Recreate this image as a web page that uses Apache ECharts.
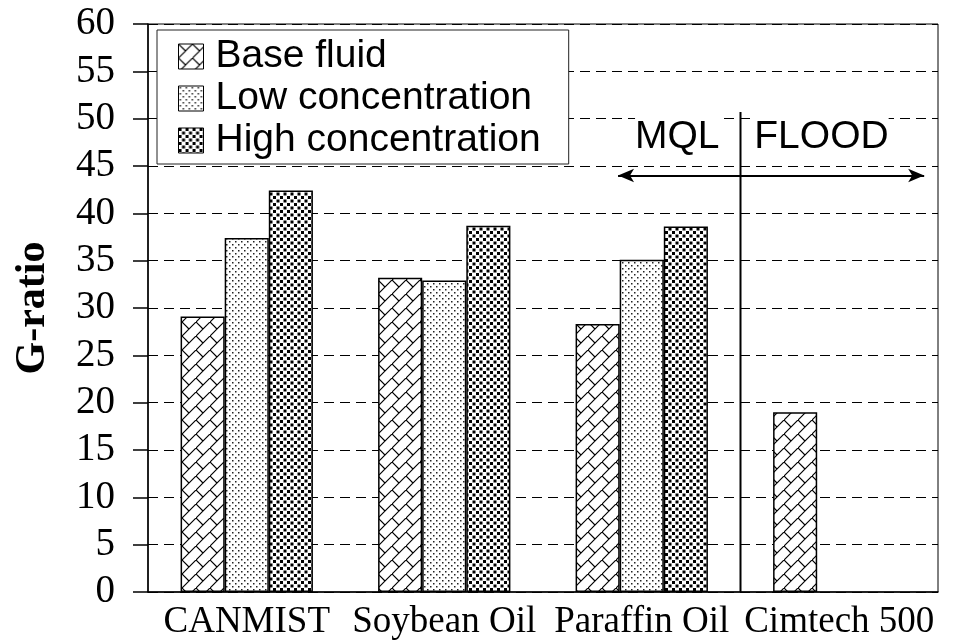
<!DOCTYPE html>
<html>
<head>
<meta charset="utf-8">
<script src="https://cdn.jsdelivr.net/npm/echarts@6/dist/echarts.min.js"></script>
<style>
  html, body { margin: 0; padding: 0; background: #fff; }
  #main { width: 966px; height: 640px; }
</style>
</head>
<body>
<div id="main"></div>
<script>
// data
const categories = ['CANMIST', 'Soybean Oil', 'Paraffin Oil', 'Cimtech 500'];
const seriesNames = ['Base fluid', 'Low concentration', 'High concentration'];
const baseFluid = [29.1, 33.2, 28.3, 19.0];
const lowConc = [37.4, 32.9, 35.1, null];
const highConc = [42.4, 38.7, 38.6, null];
const yMin = 0, yMax = 60, yStep = 5;

// annotations, in units of a hidden 0..4 x axis
const dividerLine = [[3, 50.7], [3, 0]];
const arrowSpan = [2.38, 3.93];
const arrowY = 44;
const regionLabels = [[2.68, 48, 'MQL'], [3.41, 48, 'FLOOD']];

// fill patterns (like the old excel ones)
function makeTile(size, draw) {
  const c = document.createElement('canvas');
  c.width = size; c.height = size;
  const ctx = c.getContext('2d');
  ctx.fillStyle = '#fff';
  ctx.fillRect(0, 0, size, size);
  draw(ctx, size);
  return { image: c, repeat: 'repeat' };
}
const brick = makeTile(14, function (ctx, s) {
  ctx.strokeStyle = '#000';
  ctx.lineWidth = 1.2;
  ctx.beginPath();
  ctx.moveTo(-1, s + 1); ctx.lineTo(s + 1, -1); // the / line
  ctx.moveTo(0, 0); ctx.lineTo(s / 2, s / 2);    // short \ joint
  ctx.stroke();
});
const sparseDots = makeTile(6, function (ctx) {
  ctx.fillStyle = '#222';
  ctx.fillRect(1, 1, 1.5, 1.5);
  ctx.fillRect(4, 4, 1.5, 1.5);
});
const denseDots = makeTile(7, function (ctx) {
  ctx.fillStyle = '#000';
  ctx.fillRect(0, 0, 3, 3);
  ctx.fillRect(3.5, 3.5, 3, 3);
});

const chart = echarts.init(document.getElementById('main'));

function barSeries(name, data, fill) {
  return {
    name: name,
    type: 'bar',
    data: data,
    barGap: '0%',
    barCategoryGap: '33%',
    itemStyle: { color: fill, borderColor: '#000', borderWidth: 1.5 },
    emphasis: { disabled: true }
  };
}

const option = {
  animation: false,
  grid: {
    left: 148, right: 28, top: 24, bottom: 48,
    outerBoundsMode: 'none',
    containLabel: false,
    show: true, borderColor: '#000', borderWidth: 1, backgroundColor: 'transparent'
  },
  legend: {
    data: seriesNames,
    orient: 'vertical',
    left: 157, top: 30,
    padding: [7, 28, 4, 21],
    itemGap: 3,
    itemWidth: 25, itemHeight: 25,
    icon: 'rect',
    backgroundColor: '#fff',
    borderColor: '#222', borderWidth: 1,
    itemStyle: { borderColor: '#000', borderWidth: 1 },
    textStyle: { fontFamily: 'Liberation Sans', fontSize: 39, color: '#000', padding: [0, 0, 0, 7] }
  },
  xAxis: [
    {
      type: 'category',
      data: categories,
      axisLine: { lineStyle: { color: '#000', width: 1.5 } },
      axisTick: { show: false },
      axisLabel: { fontFamily: 'Liberation Serif', fontSize: 37, color: '#000', margin: 12, interval: 0 }
    },
    { type: 'value', min: 0, max: 4, show: false }
  ],
  yAxis: {
    type: 'value',
    min: yMin, max: yMax, interval: yStep,
    name: 'G-ratio',
    nameLocation: 'middle',
    nameGap: 94,
    nameTextStyle: { fontFamily: 'Liberation Serif', fontSize: 42, fontWeight: 'bold', color: '#000' },
    axisLine: { show: true, lineStyle: { color: '#000', width: 1.5 } },
    axisTick: { show: true, length: 15, lineStyle: { color: '#000', width: 1.5 } },
    axisLabel: { fontFamily: 'Liberation Serif', fontSize: 39, color: '#000', margin: 33 },
    splitLine: { lineStyle: { color: '#000', width: 1, type: [10, 6] } }
  },
  series: [
    barSeries(seriesNames[0], baseFluid, brick),
    barSeries(seriesNames[1], lowConc, sparseDots),
    barSeries(seriesNames[2], highConc, denseDots),
    {
      name: 'divider',
      type: 'line',
      xAxisIndex: 1,
      data: dividerLine,
      symbol: 'none',
      silent: true,
      lineStyle: { color: '#000', width: 2 },
      markLine: {
        silent: true,
        symbol: ['arrow', 'arrow'],
        symbolSize: [10, 16],
        label: { show: false },
        lineStyle: { color: '#000', width: 2, type: 'solid' },
        data: [[{ coord: [arrowSpan[0], arrowY] }, { coord: [arrowSpan[1], arrowY] }]]
      }
    },
    {
      name: 'regions',
      type: 'scatter',
      xAxisIndex: 1,
      data: regionLabels,
      symbolSize: 0,
      silent: true,
      itemStyle: { opacity: 1 },
      label: {
        show: true,
        position: 'inside',
        formatter: function (p) { return p.value[2]; },
        fontFamily: 'Liberation Sans', fontSize: 39, color: '#000',
        backgroundColor: '#fff'
      }
    }
  ]
};

chart.setOption(option);
</script>
</body>
</html>
